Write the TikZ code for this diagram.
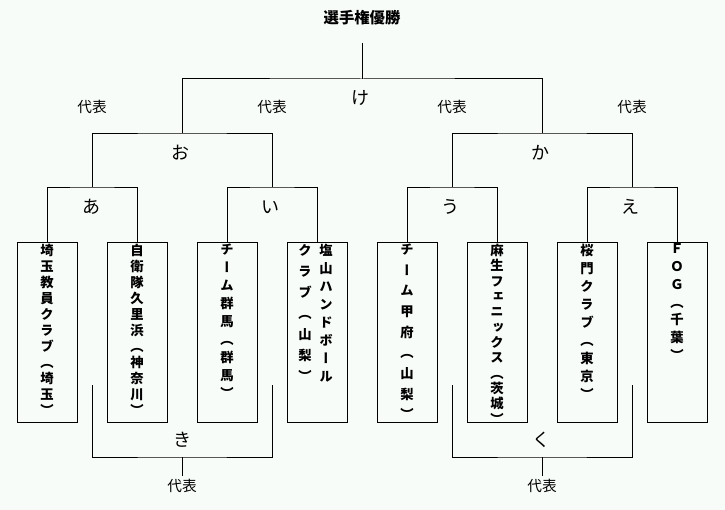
\documentclass[tikz,border=0pt]{standalone}
\usepackage{fontspec}
\setmainfont{Noto Sans CJK JP}
\newfontfamily\tatefont[RawFeature=+vert]{Noto Sans CJK JP}
\definecolor{paper}{RGB}{248,252,248}

\begin{document}
\begin{tikzpicture}[x=0.75pt, y=-0.75pt, line width=0.75pt,
		kana/.style={font=\fontsize{13.5}{15}\selectfont, inner sep=0pt},
		rep/.style={font=\fontsize{11}{12}\selectfont, inner sep=2pt},
		teambox/.style={draw, minimum width=45pt, minimum height=135pt, inner sep=0pt},
		tate/.style={anchor=north, align=center, inner sep=1.5pt,
			font=\tatefont\bfseries\fontsize{10}{#1}\selectfont},
		tate/.default=12pt]
		\fill[paper] (0,0) rectangle (725,510);
		\useasboundingbox (0,0) rectangle (725,510);
		\node (champ) at (362,18) 
		[font=\bfseries\fontsize{11.5}{13}\selectfont]
		{選手権優勝};
		\node (t1) at ( 47,332) [teambox] {};
		\node (t2) at (137,332) [teambox] {};
		\node (t3) at (227,332) [teambox] {};
		\node (t4) at (317,332) [teambox] {};
		\node (t5) at (407,332) [teambox] {};
		\node (t6) at (497,332) [teambox] {};
		\node (t7) at (587,332) [teambox] {};
		\node (t8) at (677,332) [teambox] {};
		\node (n1) at (t1.north) [tate=12pt] {埼\\玉\\教\\員\\ク\\ラ\\ブ\\（\\埼\\玉\\）};
		\node (n2) at (t2.north) [tate=12pt] {自\\衛\\隊\\久\\里\\浜\\（\\神\\奈\\川\\）};
		\node (n3) at (t3.north) [tate=13.5pt] {チ\\ー\\ム\\群\\馬\\（\\群\\馬\\）};
		\node (n4a) at ([xshift=6.75pt]t4.north) [tate=13.5pt] {塩\\山\\ハ\\ン\\ド\\ボ\\ー\\ル};
		\node (n4b) at ([xshift=-9pt]t4.north) [tate=15.75pt] {ク\\ラ\\ブ\\（\\山\\梨\\）};
		\node (n5) at (t5.north) [tate=15.5pt] {チ\\ー\\ム\\甲\\府\\（\\山\\梨\\）};
		\node (n6) at (t6.north) [tate=11.5pt] {麻\\生\\フ\\ェ\\ニ\\ッ\\ク\\ス\\（\\茨\\城\\）};
		\node (n7) at (t7.north) [tate=13.5pt] {桜\\門\\ク\\ラ\\ブ\\（\\東\\京\\）};
		\node (n8) at (t8.north) [tate=13.3pt] {Ｆ\\Ｏ\\Ｇ\\（\\千\\葉\\）};
		\coordinate (a)  at ( 92,187);
		\coordinate (i)  at (272,187);
		\coordinate (u)  at (452,187);
		\coordinate (e)  at (632,187);
		\coordinate (o)  at (182,133);
		\coordinate (ka) at (542,133);
		\coordinate (ke) at (362,79);
		\coordinate (win) at (362,43);
		\draw (t1.north) |- (a) -| (t2.north);
		\draw (t3.north) |- (i) -| (t4.north);
		\draw (t5.north) |- (u) -| (t6.north);
		\draw (t7.north) |- (e) -| (t8.north);
		\draw (a) |- (o) -| (i);
		\draw (u) |- (ka) -| (e);
		\draw (o) |- (ke) -| (ka);
		\draw (ke) -- (win);
		\coordinate (ki1) at ( 92,385);
		\coordinate (ki2) at (272,385);
		\coordinate (ki)  at (182,457);
		\coordinate (ku1) at (452,385);
		\coordinate (ku2) at (632,385);
		\coordinate (ku)  at (542,457);
		\node (kirep) at (182,486) [rep] {代表};
		\node (kurep) at (542,486) [rep] {代表};
		\draw (ki1) |- (ki) -| (ki2);
		\draw (ku1) |- (ku) -| (ku2);
		\draw (ki) -- (kirep.north);
		\draw (ku) -- (kurep.north);
		\node (lke) at (360,98)  [kana] {け};
		\node (lo)  at (180,153) [kana] {お};
		\node (lka) at (540,153) [kana] {か};
		\node (la)  at ( 91,207) [kana] {あ};
		\node (li)  at (270,207) [kana] {い};
		\node (lu)  at (450,207) [kana] {う};
		\node (le)  at (630,207) [kana] {え};
		\node (lki) at (182,440) [kana] {き};
		\node (lku) at (541,440) [kana] {く};
		\node (r1) at ( 92,107) [rep] {代表};
		\node (r2) at (272,107) [rep] {代表};
		\node (r3) at (452,107) [rep] {代表};
		\node (r4) at (632,107) [rep] {代表};
		\end{tikzpicture}
\end{document}
